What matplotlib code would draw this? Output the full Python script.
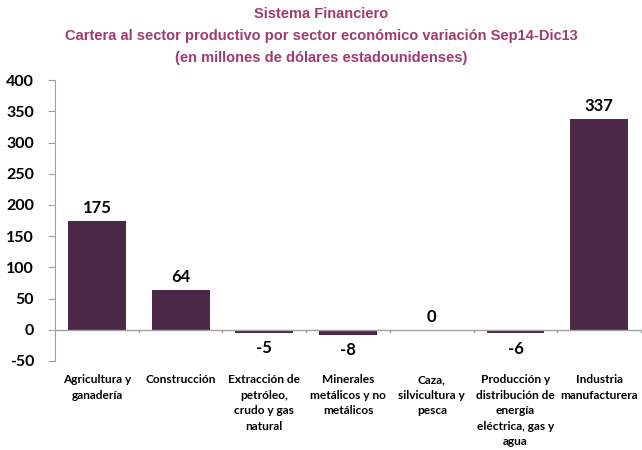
import matplotlib
matplotlib.use("Agg")
import matplotlib.pyplot as plt

categories = ["Agricultura y\nganadería", "Construcción", "Extracción de\npetróleo,\ncrudo y gas\nnatural",
              "Minerales\nmetálicos y no\nmetálicos", "Caza,\nsilvicultura y\npesca",
              "Producción y\ndistribución de\nenergía\neléctrica, gas y\nagua", "Industria\nmanufacturera"]
values = [175, 64, -5, -8, 0, -6, 337]
yticks = [-50, 0, 50, 100, 150, 200, 250, 300, 350, 400]

bar_color = "#4B2847"
title_color = "#A03A70"
lab_font = "Lato"

fig = plt.figure(figsize=(6.42, 4.5), dpi=100)
ax = fig.add_axes([0.0857, 0.198, 0.913, 0.624])
x = list(range(len(categories)))
ax.bar(x, values, width=0.69, color=bar_color, zorder=2)
ax.set_xlim(-0.5, len(categories) - 0.5)
ax.set_ylim(-50, 400)
ax.set_yticks(yticks)
ax.set_yticklabels([str(t) for t in yticks], fontsize=11.5, fontweight="bold", family=lab_font)
for s in ["top", "right", "bottom"]:
    ax.spines[s].set_visible(False)
ax.spines["left"].set_color("#A0A0A0")
ax.tick_params(axis="y", length=5, color="#A0A0A0", pad=10)
ax.axhline(0, color="#A0A0A0", lw=1, zorder=3)
ax.set_xticks([])
for b in range(1, len(categories) + 1):
    ax.plot([b - 0.5, b - 0.5], [0, -4], color="#A0A0A0", lw=1, clip_on=False, zorder=3)

for xi, v in zip(x, values):
    if v > 0:
        ax.text(xi, v + 8, str(v), ha="center", va="bottom", fontsize=12, fontweight="bold", family=lab_font)
    elif v == 0:
        ax.text(xi, 8, str(v), ha="center", va="bottom", fontsize=12, fontweight="bold", family=lab_font)
    else:
        ax.text(xi, v - 12, str(v), ha="center", va="top", fontsize=12, fontweight="bold", family=lab_font)

for xi, c in zip(x, categories):
    ax.text(xi, -71, c, ha="center", va="top", fontsize=8.6, fontweight="bold", family=lab_font,
            linespacing=1.5, clip_on=False)

fig.text(0.5, 0.968, "Sistema Financiero", ha="center", va="center", fontsize=10.5,
         fontweight="bold", color=title_color, family="Liberation Sans")
fig.text(0.5, 0.92, "Cartera al sector productivo por sector económico variación Sep14-Dic13", ha="center",
         va="center", fontsize=10.5, fontweight="bold", color=title_color, family="Liberation Sans")
fig.text(0.5, 0.871, "(en millones de dólares estadounidenses)", ha="center", va="center", fontsize=10.5,
         fontweight="bold", color=title_color, family="Liberation Sans")

fig.savefig("out.png", dpi=100)
